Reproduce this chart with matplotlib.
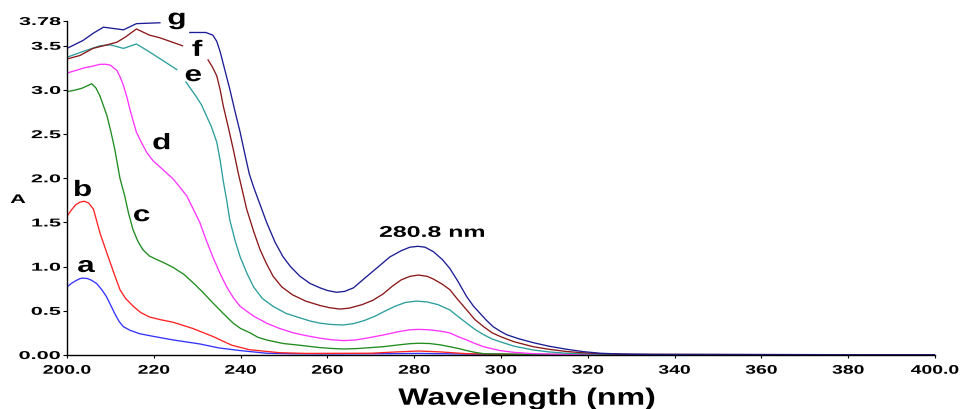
import numpy as np
import matplotlib
matplotlib.use("Agg")
import matplotlib.pyplot as plt
from matplotlib.patheffects import AbstractPathEffect
from matplotlib.transforms import Affine2D
from matplotlib.path import Path

nan = np.nan

# ---------------- data ----------------
wl_a = [200, 201, 202, 203, 203.7, 204.7, 205.5, 206.8, 208, 209.1, 210, 211, 212, 213, 214.5, 216.8, 220, 224.5, 230.6, 235, 239.9, 246, 252, 260, 272, 281, 290, 300, 320, 400]
ab_a = [0.77, 0.81, 0.84, 0.865, 0.87, 0.865, 0.85, 0.81, 0.74, 0.66, 0.57, 0.47, 0.38, 0.32, 0.28, 0.24, 0.21, 0.17, 0.125, 0.08, 0.05, 0.02, 0.014, 0.012, 0.014, 0.018, 0.012, 0.006, 0.003, 0.002]

wl_b = [200, 201, 202, 203, 204, 205, 206.1, 207.6, 209, 210, 211, 212.2, 213.5, 215.3, 217, 219, 221.5, 224.5, 229, 233.6, 238, 242, 249, 255, 270, 276, 281, 286, 292, 300, 320, 400]
ab_b = [1.57, 1.64, 1.70, 1.73, 1.74, 1.72, 1.65, 1.38, 1.18, 1.04, 0.90, 0.74, 0.64, 0.55, 0.48, 0.43, 0.40, 0.37, 0.30, 0.21, 0.11, 0.06, 0.026, 0.018, 0.02, 0.035, 0.045, 0.035, 0.015, 0.008, 0.004, 0.002]

wl_c = [200, 202, 203.5, 205.7, 206.7, 207.6, 208.4, 209.2, 210.1, 211, 212.2, 213.3, 214.2, 215.2, 216.3, 217.5, 219, 220.7, 222.5, 224.5, 227, 229, 231.3, 233.6, 236, 238.3, 240, 242.2, 244, 246, 249.8, 253.7, 258, 261, 263.7, 266.5, 269.5, 272.9, 276.5, 279, 281, 283.5, 286, 288.2, 290.5, 292.1, 294, 296, 305, 320, 400]
ab_c = [2.98, 3.00, 3.02, 3.07, 3.02, 2.93, 2.82, 2.71, 2.53, 2.33, 2.00, 1.80, 1.60, 1.42, 1.29, 1.19, 1.12, 1.08, 1.04, 0.99, 0.91, 0.82, 0.71, 0.59, 0.47, 0.36, 0.30, 0.25, 0.20, 0.17, 0.13, 0.11, 0.085, 0.074, 0.068, 0.072, 0.082, 0.094, 0.115, 0.128, 0.133, 0.13, 0.115, 0.094, 0.07, 0.05, 0.03, 0.015, 0.008, 0.004, 0.002]

wl_d = [200, 202, 204, 206, 207.6, 209, 210, 211.5, 212.3, 213, 213.8, 214.5, 215.3, 216, 217.2, 218.4, 219.8, 220.7, 222.5, 224.5, 226, 227.6, 229, 230.6, 232, 233.6, 235.2, 236.8, 238.3, 239.9, 243, 246, 249, 252.2, 255, 258.3, 261, 263.7, 266.5, 269.5, 272.9, 276.5, 279, 281, 283.5, 286, 288.2, 290, 292.1, 294, 296, 298, 299.8, 303, 307.4, 313, 400]
ab_d = [3.19, 3.22, 3.25, 3.27, 3.29, 3.29, 3.28, 3.22, 3.14, 3.05, 2.92, 2.78, 2.64, 2.52, 2.40, 2.29, 2.20, 2.16, 2.08, 1.99, 1.90, 1.80, 1.66, 1.50, 1.31, 1.11, 0.93, 0.77, 0.65, 0.55, 0.44, 0.36, 0.30, 0.25, 0.22, 0.19, 0.172, 0.163, 0.17, 0.195, 0.227, 0.265, 0.285, 0.29, 0.285, 0.27, 0.25, 0.21, 0.17, 0.13, 0.094, 0.07, 0.05, 0.03, 0.015, 0.008, 0.002]

wl_e = [200, 204, 207.6, 210, 213, 216, 219, 222.8, 225.3, 226.3, 227.4, 229.7, 231, 232.1, 233.3, 234.5, 235.3, 236, 236.8, 237.5, 238.7, 239.9, 241.5, 243, 245, 247.5, 250.5, 253.7, 256, 258.3, 261, 263.7, 266, 268.5, 271, 273, 275.5, 278, 280.6, 283, 285.5, 288.2, 290, 292.1, 294, 296, 298, 299.8, 303, 307.4, 311, 315, 320, 325, 400]
ab_e = [3.37, 3.44, 3.50, 3.51, 3.47, 3.52, 3.43, 3.31, 3.23, nan, 3.09, 2.93, 2.83, 2.71, 2.58, 2.41, 2.20, 1.97, 1.75, 1.53, 1.30, 1.11, 0.92, 0.77, 0.64, 0.55, 0.47, 0.42, 0.385, 0.36, 0.345, 0.34, 0.355, 0.39, 0.44, 0.49, 0.55, 0.595, 0.61, 0.60, 0.57, 0.51, 0.44, 0.36, 0.29, 0.23, 0.18, 0.15, 0.10, 0.057, 0.035, 0.02, 0.012, 0.008, 0.002]

wl_f = [200, 203, 206, 210, 211.5, 213.5, 216, 219, 221.4, 226.6, 229.5, 232.5, 233.5, 234.5, 235.3, 236, 237.2, 238.3, 239.5, 240.5, 241.4, 243, 244.5, 246, 247.5, 249.5, 252, 255, 258.3, 260.5, 262.9, 265, 268, 270.5, 272.8, 275, 277, 279, 281, 283, 284.4, 286.5, 288.2, 290, 292.1, 294, 296, 298, 299.8, 303, 307.4, 311, 315, 319, 323, 330, 400]
ab_f = [3.35, 3.39, 3.47, 3.52, 3.54, 3.60, 3.69, 3.62, 3.59, 3.50, nan, 3.34, 3.26, 3.16, 3.00, 2.82, 2.57, 2.33, 2.05, 1.84, 1.65, 1.40, 1.19, 1.03, 0.89, 0.77, 0.68, 0.61, 0.56, 0.535, 0.52, 0.53, 0.57, 0.62, 0.69, 0.78, 0.85, 0.89, 0.905, 0.89, 0.86, 0.80, 0.74, 0.63, 0.51, 0.40, 0.32, 0.25, 0.21, 0.15, 0.094, 0.065, 0.04, 0.025, 0.015, 0.007, 0.002]

wl_g = [200, 203.7, 206, 208.4, 211.5, 213, 216, 221.4, 225, 228.3, 232, 233.6, 234.5, 235.3, 236.4, 237.5, 238.7, 239.9, 241, 242, 243, 244.5, 246, 248, 249.8, 251.5, 253.7, 256, 258.3, 260, 262.1, 264, 266, 269.1, 272, 274.4, 277, 279, 280.9, 282.5, 284.4, 286.5, 288.2, 290, 292.1, 293.7, 295.2, 296.7, 298.2, 299.8, 301.3, 304, 307.4, 311, 315.1, 319, 322.8, 328, 335, 400]
ab_g = [3.47, 3.56, 3.64, 3.71, 3.69, 3.68, 3.75, 3.76, nan, 3.65, 3.65, 3.62, 3.55, 3.43, 3.22, 3.01, 2.76, 2.52, 2.27, 2.05, 1.90, 1.70, 1.50, 1.27, 1.11, 1.00, 0.89, 0.81, 0.76, 0.73, 0.71, 0.72, 0.76, 0.89, 1.01, 1.11, 1.18, 1.22, 1.23, 1.22, 1.17, 1.08, 0.98, 0.84, 0.66, 0.55, 0.47, 0.39, 0.32, 0.27, 0.23, 0.185, 0.14, 0.10, 0.065, 0.038, 0.02, 0.01, 0.005, 0.002]

series_wl = [wl_a, wl_b, wl_c, wl_d, wl_e, wl_f, wl_g]
series_ab = [ab_a, ab_b, ab_c, ab_d, ab_e, ab_f, ab_g]
series_names = ["a", "b", "c", "d", "e", "f", "g"]
series_colors = ["#3333ff", "#ff2222", "#1f8c1f", "#ff33ff", "#2c9e9e", "#8b1818", "#1c1c94"]

# curve label anchors (wavelength, absorbance of text baseline)
label_wl = [204.4, 203.6, 217.2, 221.8, 229.1, 230.0, 225.3]
label_ab = [0.94, 1.80, 1.515, 2.33, 3.10, 3.385, 3.74]

peak_text = "280.8 nm"
peak_pos = (284.1, 1.337)

xticks = [200, 220, 240, 260, 280, 300, 320, 340, 360, 380, 400]
xtick_labels = ["200.0", "220", "240", "260", "280", "300", "320", "340", "360", "380", "400.0"]
yticks = [0.0, 0.5, 1.0, 1.5, 2.0, 2.5, 3.0, 3.5, 3.78]
ytick_labels = ["0.00", "0.5", "1.0", "1.5", "2.0", "2.5", "3.0", "3.5", "3.78"]


# --------------- horizontal stretch for text (reference text is wide) ---------------
class HStretch(AbstractPathEffect):
    def __init__(self, sx, anchor="center"):
        super().__init__((0, 0))
        self._sx = sx
        self._anchor = anchor

    def draw_path(self, renderer, gc, tpath, affine, rgbFace=None):
        verts = tpath.vertices
        codes = tpath.codes
        if codes is not None:
            xs = verts[codes != Path.CLOSEPOLY, 0]
        else:
            xs = verts[:, 0]
        if xs.size == 0:
            renderer.draw_path(gc, tpath, affine, rgbFace)
            return
        if self._anchor == "right":
            cx = xs.max()
        elif self._anchor == "left":
            cx = xs.min()
        else:
            cx = 0.5 * (xs.min() + xs.max())
        t = Affine2D().translate(-cx, 0).scale(self._sx, 1.0).translate(cx, 0) + affine
        renderer.draw_path(gc, tpath, t, rgbFace)


plt.rcParams["font.family"] = ["Liberation Sans", "DejaVu Sans"]
plt.rcParams["font.weight"] = "bold"

W, H = 962, 410
fig = plt.figure(figsize=(W / 100, H / 100), dpi=100)
x0, x1, ytop, ybot = 67, 935, 22, 356
ax = fig.add_axes([x0 / W, 1 - ybot / H, (x1 - x0) / W, (ybot - ytop) / H])

for wl, ab, col in zip(series_wl, series_ab, series_colors):
    ax.plot(wl, ab, color=col, lw=0.95, solid_joinstyle="round")

for name, lx, ly in zip(series_names, label_wl, label_ab):
    ax.text(lx, ly, name, fontsize=16, fontweight="bold", ha="center", va="baseline",
            color="black", path_effects=[HStretch(1.42, "center")], clip_on=False)

ax.text(peak_pos[0], peak_pos[1], peak_text, fontsize=11.2, fontweight="bold",
        ha="center", va="baseline", color="black", path_effects=[HStretch(1.6, "center")])

ax.set_xlim(200, 400)
ax.set_ylim(0, 3.78)
ax.set_xticks(xticks)
ax.set_xticklabels(xtick_labels)
ax.set_yticks(yticks)
ax.set_yticklabels(ytick_labels)

for s in ("top", "right"):
    ax.spines[s].set_visible(False)
for s in ("left", "bottom"):
    ax.spines[s].set_linewidth(1.0)
    ax.spines[s].set_color("black")

ax.tick_params(axis="x", direction="out", length=1.8, width=0.8, pad=5.2, labelsize=9)
ax.tick_params(axis="y", direction="out", length=3.0, width=0.8, pad=1.5, labelsize=8.2)

for lbl in ax.get_xticklabels():
    lbl.set_fontweight("bold")
    lbl.set_path_effects([HStretch(1.55, "center")])
for lbl in ax.get_yticklabels():
    lbl.set_fontweight("bold")
    lbl.set_path_effects([HStretch(1.9, "right")])

ax.set_xlabel("Wavelength (nm)", fontsize=17, fontweight="bold")
ax.xaxis.label.set_va("baseline")
ax.xaxis.label.set_path_effects([HStretch(1.36, "center")])
ax.xaxis.set_label_coords((527 - x0) / (x1 - x0), -(405.7 - ybot) / (ybot - ytop))

ax.set_ylabel("A", fontsize=9, fontweight="bold", rotation=0)
ax.yaxis.label.set_ha("center")
ax.yaxis.label.set_va("baseline")
ax.yaxis.label.set_path_effects([HStretch(1.75, "center")])
ax.yaxis.set_label_coords((18 - x0) / (x1 - x0), (ybot - 204) / (ybot - ytop))

fig.savefig("out.png", dpi=100)
